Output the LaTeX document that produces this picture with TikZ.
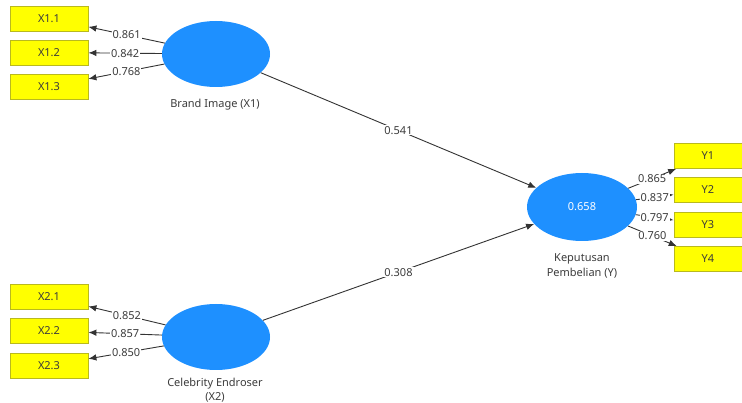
\documentclass[tikz,border=0pt]{standalone}
\usepackage{fontspec}
\setmainfont{Noto Sans}
\usetikzlibrary{arrows.meta,shapes.geometric}
\definecolor{lvblue}{RGB}{30,144,255}
\definecolor{indyel}{RGB}{255,255,0}
\definecolor{indbord}{RGB}{185,185,30}
\definecolor{txt}{RGB}{60,60,60}
\begin{document}
\begin{tikzpicture}[x=1pt,y=-1pt, font=\fontsize{11}{14}\selectfont,
 latent/.style={ellipse, fill=lvblue, minimum width=108pt, minimum height=66pt, inner sep=0pt},
 ind/.style={rectangle, fill=indyel, draw=indbord, line width=0.8pt, minimum width=78pt, minimum height=25pt, inner sep=0pt, text=txt},
 link/.style={draw=black!80, line width=0.9pt, -{Latex[length=8pt,width=6.5pt]}},
 wlab/.style={fill=white, inner sep=1pt, text=txt},
 captext/.style={text=txt, align=center}]
\useasboundingbox (0,0) rectangle (742,403);
\fill[white] (0,0) rectangle (742,403);
% latent variables
\node[latent] (X1) at (216,54) {};
\node[latent] (X2) at (216,337) {};
\node[latent, minimum width=110pt, minimum height=68pt, text=white] (Y) at (582,207) {0.658};
% captions
\node[captext] (capX1) at (215,105) {Brand Image (X1)};
\node[captext] (capX2) at (215,390) {Celebrity Endroser\\(X2)};
\node[captext, font=\fontsize{11}{15}\selectfont] (capY) at (582,266) {Keputusan\\Pembelian (Y)};
% indicators
\node[ind] (X11) at (49,18.5) {X1.1};
\node[ind] (X12) at (49,52.5) {X1.2};
\node[ind] (X13) at (49,86.5) {X1.3};
\node[ind] (X21) at (49,297) {X2.1};
\node[ind] (X22) at (49,331) {X2.2};
\node[ind] (X23) at (49,365.5) {X2.3};
\node[ind, minimum width=68pt] (Y1) at (708,156) {Y1};
\node[ind, minimum width=68pt] (Y2) at (708,190) {Y2};
\node[ind, minimum width=68pt] (Y3) at (708,225) {Y3};
\node[ind, minimum width=68pt] (Y4) at (708,259) {Y4};
% outer loadings
\draw[link] (X1) -- node[wlab]{0.861} (X11);
\draw[link] (X1) -- node[wlab]{0.842} (X12);
\draw[link] (X1) -- node[wlab]{0.768} (X13);
\draw[link] (X2) -- node[wlab]{0.852} (X21);
\draw[link] (X2) -- node[wlab]{0.857} (X22);
\draw[link] (X2) -- node[wlab]{0.850} (X23);
\draw[link] (Y) -- node[wlab]{0.865} (Y1);
\draw[link] (Y) -- node[wlab]{0.837} (Y2);
\draw[link] (Y) -- node[wlab]{0.797} (Y3);
\draw[link] (Y) -- node[wlab]{0.760} (Y4);
% path coefficients
\draw[link] (X1) -- node[wlab]{0.541} (Y);
\draw[link] (X2) -- node[wlab]{0.308} (Y);
\end{tikzpicture}
\end{document}
